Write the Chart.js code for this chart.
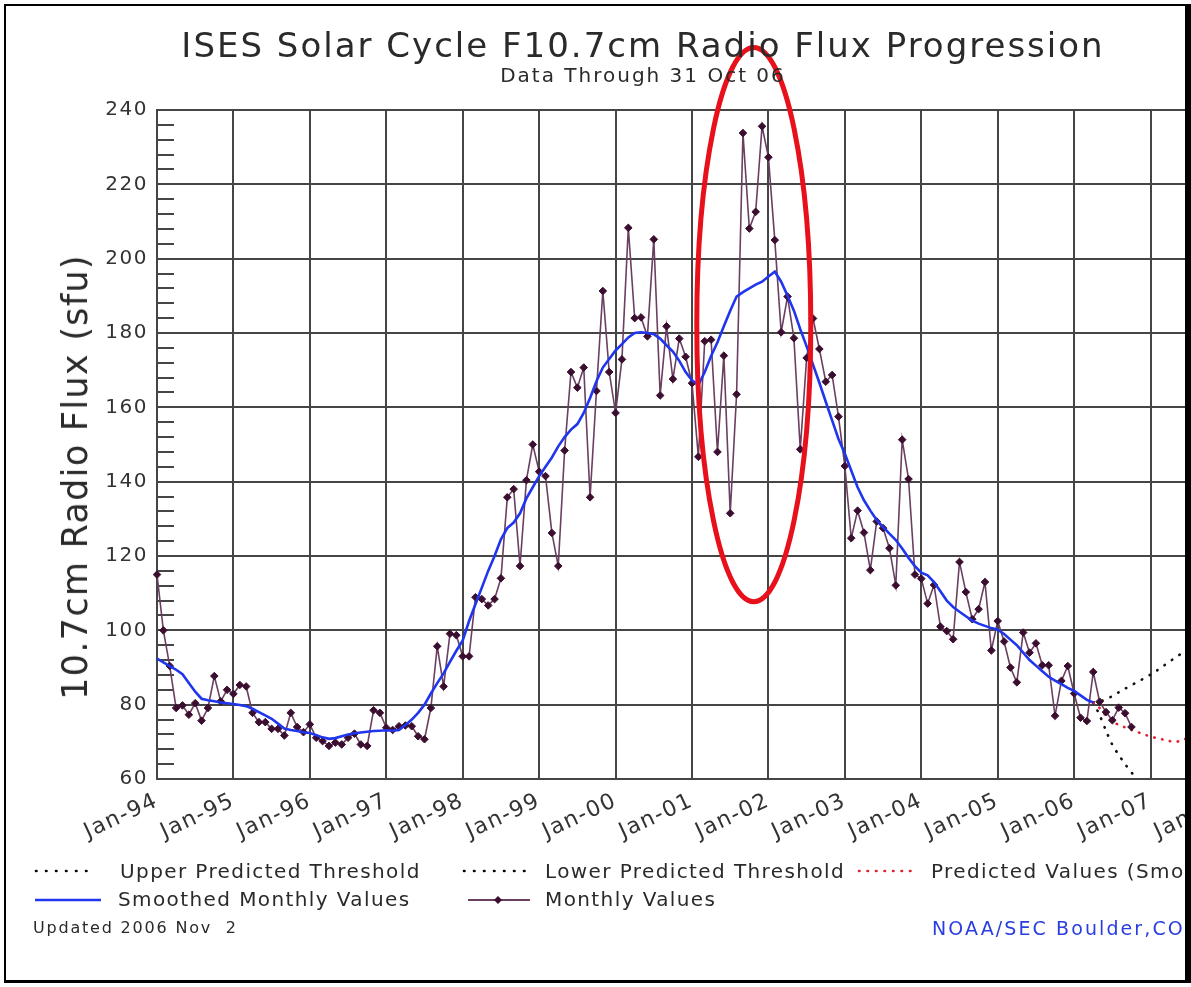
<!DOCTYPE html>
<html>
<head>
<meta charset="utf-8">
<script src="https://cdn.jsdelivr.net/npm/chart.js@4.4.1/dist/chart.umd.min.js"></script>
<style>
  html, body { margin:0; padding:0; background:#fff; width:1191px; height:987px; overflow:hidden; }
  #clip { position:absolute; left:0; top:0; width:1185px; height:987px; overflow:hidden; background:#fff; }
  #c { position:absolute; left:0; top:0; }
  .t { position:absolute; font-family:"DejaVu Sans", sans-serif; color:#2a2a2a; white-space:pre; }
  .bar { position:absolute; background:#000; }
  .lg { position:absolute; }
</style>
</head>
<body>
<div id="clip">
  <canvas id="c" width="1300" height="987"></canvas>
  <div class="t" id="title" style="left:0;width:1286px;text-align:center;top:24px;font-size:34px;line-height:42px;letter-spacing:2px;">ISES Solar Cycle F10.7cm Radio Flux Progression</div>
  <div class="t" id="subtitle" style="left:0;width:1286px;text-align:center;top:63px;font-size:20px;line-height:24px;letter-spacing:2px;">Data Through 31 Oct 06</div>
  <div class="t" id="ytitle" style="left:75px;top:477px;font-size:35px;line-height:40px;letter-spacing:1.3px;transform:translate(-50%,-50%) rotate(-90deg);">10.7cm Radio Flux (sfu)</div>

  <svg class="lg" style="left:33px;top:866px" width="64" height="10"><line x1="3" y1="5" x2="62" y2="5" stroke="#000" stroke-width="2.6" stroke-linecap="round" stroke-dasharray="0.5 9.5"/></svg>
  <div class="t" style="left:120px;top:859px;font-size:20px;line-height:24px;letter-spacing:1.4px;">Upper Predicted Threshold</div>
  <svg class="lg" style="left:461px;top:866px" width="66" height="10"><line x1="3" y1="5" x2="64" y2="5" stroke="#000" stroke-width="2.6" stroke-linecap="round" stroke-dasharray="0.5 9.5"/></svg>
  <div class="t" style="left:545px;top:859px;font-size:20px;line-height:24px;letter-spacing:1.4px;">Lower Predicted Threshold</div>
  <svg class="lg" style="left:856px;top:866px" width="64" height="10"><line x1="3" y1="5" x2="62" y2="5" stroke="#e0202a" stroke-width="2.6" stroke-linecap="round" stroke-dasharray="0.5 8"/></svg>
  <div class="t" style="left:931px;top:859px;font-size:20px;line-height:24px;letter-spacing:1.4px;">Predicted Values (Smoothed)</div>

  <svg class="lg" style="left:34px;top:895px" width="68" height="10"><line x1="1" y1="5" x2="67" y2="5" stroke="#1f35ee" stroke-width="2.6"/></svg>
  <div class="t" style="left:118px;top:887px;font-size:20px;line-height:24px;letter-spacing:1.4px;">Smoothed Monthly Values</div>
  <svg class="lg" style="left:467px;top:894px" width="64" height="12"><line x1="1" y1="6" x2="63" y2="6" stroke="#6a3f60" stroke-width="1.8"/><polygon points="31,2 35,6 31,10 27,6" fill="#3b0e30"/></svg>
  <div class="t" style="left:545px;top:887px;font-size:20px;line-height:24px;letter-spacing:1.4px;">Monthly Values</div>

  <div class="t" style="left:33px;top:918px;font-size:16px;line-height:20px;letter-spacing:1.8px;">Updated 2006 Nov  2</div>
  <div class="t" style="left:932px;top:916px;font-size:19px;line-height:24px;letter-spacing:2.1px;color:#2a3de0;">NOAA/SEC Boulder,CO</div>
</div>
<div class="bar" style="left:4px;top:4px;width:1187px;height:2px"></div>
<div class="bar" style="left:4px;top:4px;width:2px;height:979px"></div>
<div class="bar" style="left:4px;top:980px;width:1187px;height:3px"></div>
<div class="bar" style="left:1185px;top:4px;width:6px;height:979px"></div>

<script>
// ---- Data (month index 0 = Jan 1994) ----
const xTickLabels = ['Jan-94','Jan-95','Jan-96','Jan-97','Jan-98','Jan-99','Jan-00','Jan-01','Jan-02','Jan-03','Jan-04','Jan-05','Jan-06','Jan-07','Jan-08'];

const monthlyStart = 0; // Jan-94
const monthlyValues = [
  115.0, 100.0, 90.4, 79.1, 79.8, 77.3, 80.4, 75.7, 79.1, 87.7, 80.9, 84.0,
  82.9, 85.3, 84.9, 77.8, 75.3, 75.3, 73.5, 73.5, 71.7, 77.8, 74.0, 72.6,
  74.7, 71.1, 70.2, 68.9, 69.8, 69.3, 71.1, 72.2, 69.3, 68.9, 78.5, 77.8,
  73.8, 73.2, 74.2, 74.4, 74.2, 71.5, 70.7, 79.1, 95.7, 84.9, 99.1, 98.7,
  93.0, 93.0, 108.9, 108.4, 106.7, 108.4, 114.0, 135.8, 138.0, 117.3, 140.4, 150.0,
  142.7, 141.5, 126.2, 117.3, 148.4, 169.5, 165.3, 170.7, 135.8, 164.4, 191.3, 169.5,
  158.5, 172.9, 208.3, 184.0, 184.2, 179.1, 205.2, 163.2, 181.8, 167.6, 178.5, 173.6,
  166.5, 146.7, 177.8, 178.2, 148.0, 173.9, 131.5, 163.5, 233.8, 208.1, 212.6, 235.6,
  227.3, 205.0, 180.2, 189.8, 178.6, 148.7, 173.3, 183.9, 175.7, 166.9, 168.7, 157.5,
  144.2, 124.8, 132.2, 126.3, 116.2, 129.3, 127.5, 122.1, 112.1, 151.3, 140.7, 115.0,
  113.9, 107.2, 112.2, 101.0, 99.8, 97.6, 118.4, 110.3, 103.0, 105.7, 113.0, 94.6,
  102.5, 97.0, 90.0, 86.0, 99.4, 94.0, 96.5, 90.6, 90.6, 77.0, 86.4, 90.4,
  83.0, 76.5, 75.6, 88.8, 80.8, 78.0, 75.8, 79.2, 77.7, 74.0
];

const smoothedStart = 0; // Jan-94
const smoothedValues = [
  92.4, 91.4, 90.4, 89.4, 88.2, 85.8, 83.5, 81.6, 81.2, 80.9, 80.6, 80.4,
  80.2, 79.9, 79.6, 78.9, 78.0, 77.1, 76.2, 74.9, 73.6, 73.2, 72.9, 72.6,
  72.4, 71.8, 71.2, 70.8, 71.0, 71.5, 72.0, 72.3, 72.5, 72.7, 72.9, 73.0,
  73.1, 73.0, 73.2, 74.5, 76.0, 77.8, 80.0, 83.0, 85.8, 88.4, 91.5, 94.5,
  97.3, 102.5, 107.0, 111.5, 116.0, 120.0, 124.5, 127.5, 129.0, 131.5, 135.5, 138.5,
  141.5, 144.0, 146.5, 149.5, 152.0, 154.0, 155.5, 158.5, 162.5, 167.0, 170.7, 173.0,
  175.3, 177.0, 178.8, 180.0, 180.2, 180.0, 179.7, 178.5, 176.7, 175.0, 172.5, 169.5,
  167.3, 166.0, 169.5, 173.8, 177.5, 181.8, 186.0, 189.8, 191.0, 192.0, 193.0, 193.8,
  195.2, 196.5, 193.8, 190.0, 186.0, 181.0, 176.4, 171.5, 166.6, 161.5, 156.5, 151.5,
  147.5, 143.0, 138.5, 135.0, 132.2, 129.7, 127.8, 126.0, 124.3, 122.0, 119.5, 117.3,
  115.5, 114.8, 113.0, 110.5, 108.0, 106.3, 105.0, 103.8, 102.6, 101.8, 101.2, 100.6,
  100.2, 99.0, 97.5, 96.0, 94.0, 92.0, 90.5, 89.0, 87.5, 86.5, 85.5, 84.5,
  83.7, 82.5, 81.3, 80.6
];

const predictionStart = 147; // Apr-06
const predictedValues = [80.6, 79.1, 77.0, 75.4, 74.6, 73.9, 73.2, 72.6, 72.0, 71.4, 71.0, 70.6, 70.2, 70.0, 70.5, 71.2];
const upperThreshold  = [80.6, 80.9, 81.4, 82.3, 83.3, 84.3, 85.2, 86.2, 87.1, 88.1, 89.2, 90.4, 91.6, 92.8, 93.9, 95.0];
const lowerThreshold  = [80.6, 77.2, 73.0, 69.2, 66.5, 64.0, 61.8, 59.5];

// highlight ellipse, in data units (months / sfu)
const highlight = { centerMonth: 93.7, halfWidthMonths: 8.95, top: 256.8, bottom: 107.7 };

function toPoints(start, arr) { return arr.map((v, i) => ({ x: start + i, y: v })); }

const GRID = '#454545';
const FONT = '"DejaVu Sans", sans-serif';

const textSpacing = {
  id: 'textSpacing',
  beforeDraw(chart) { try { chart.ctx.letterSpacing = '1.5px'; } catch (e) {} },
  afterDraw(chart) { try { chart.ctx.letterSpacing = '0px'; } catch (e) {} }
};

const minorTicks = {
  id: 'minorTicks',
  beforeDatasetsDraw(chart) {
    const { ctx, chartArea, scales: { y } } = chart;
    ctx.save();
    ctx.strokeStyle = GRID;
    ctx.lineWidth = 2;
    for (let v = y.min; v <= y.max; v += 4) {
      if (v % 20 === 0) continue;
      const py = Math.round(y.getPixelForValue(v));
      ctx.beginPath();
      ctx.moveTo(chartArea.left, py);
      ctx.lineTo(chartArea.left + 17, py);
      ctx.stroke();
    }
    ctx.restore();
  }
};

const ellipsePlugin = {
  id: 'highlightEllipse',
  afterDraw(chart) {
    const { ctx, scales: { x, y } } = chart;
    const cx = x.getPixelForValue(highlight.centerMonth);
    const rx = x.getPixelForValue(highlight.centerMonth + highlight.halfWidthMonths) - cx;
    const yt = y.getPixelForValue(highlight.top);
    const yb = y.getPixelForValue(highlight.bottom);
    ctx.save();
    ctx.strokeStyle = '#e8101a';
    ctx.lineWidth = 5;
    ctx.beginPath();
    ctx.ellipse(cx, (yt + yb) / 2, rx, (yb - yt) / 2, 0, 0, Math.PI * 2);
    ctx.stroke();
    ctx.restore();
  }
};

new Chart(document.getElementById('c'), {
  type: 'line',
  data: {
    datasets: [
      {
        label: 'Smoothed Monthly Values',
        data: toPoints(smoothedStart, smoothedValues),
        borderColor: '#1f35ee', borderWidth: 2.6, pointRadius: 0, tension: 0, order: 0
      },
      {
        label: 'Monthly Values',
        data: toPoints(monthlyStart, monthlyValues),
        borderColor: '#6a3f60', borderWidth: 1.6, tension: 0,
        pointStyle: 'rectRot', pointRadius: 3.8,
        pointBackgroundColor: '#3b0e30', pointBorderColor: '#3b0e30', pointBorderWidth: 1,
        clip: false, order: 1
      },
      {
        label: 'Predicted Values (Smoothed)',
        data: toPoints(predictionStart, predictedValues),
        borderColor: '#e0202a', borderWidth: 2.6, borderDash: [0.5, 7.5], borderCapStyle: 'round',
        pointRadius: 0, tension: 0.3, order: 2
      },
      {
        label: 'Upper Predicted Threshold',
        data: toPoints(predictionStart, upperThreshold),
        borderColor: '#111', borderWidth: 2.6, borderDash: [0.5, 8.5], borderCapStyle: 'round',
        pointRadius: 0, tension: 0.3, order: 3
      },
      {
        label: 'Lower Predicted Threshold',
        data: toPoints(predictionStart, lowerThreshold),
        borderColor: '#111', borderWidth: 2.6, borderDash: [0.5, 8.5], borderCapStyle: 'round',
        pointRadius: 0, tension: 0.3, order: 3
      }
    ]
  },
  options: {
    responsive: false,
    animation: false,
    devicePixelRatio: 1,
    layout: { padding: { left: 0, top: 110, right: 73, bottom: 128 } },
    plugins: {
      legend: { display: false },
      tooltip: { enabled: false },
      title: { display: false }
    },
    scales: {
      x: {
        type: 'linear', min: 0, max: 168,
        afterFit(s) { s.height = 80; s.paddingLeft = 0; s.paddingRight = 0; },
        grid: { color: GRID, lineWidth: 2, drawTicks: false },
        border: { display: true, color: GRID, width: 2 },
        ticks: {
          stepSize: 12, autoSkip: false, minRotation: 25, maxRotation: 25, padding: 9,
          color: '#333', font: { family: FONT, size: 22 },
          callback: (v) => xTickLabels[Math.round(v / 12)]
        }
      },
      y: {
        min: 60, max: 240,
        afterFit(s) { s.width = 157; s.paddingTop = 0; s.paddingBottom = 0; },
        grid: { color: GRID, lineWidth: 2, drawTicks: false },
        border: { display: true, color: GRID, width: 2 },
        ticks: { stepSize: 20, padding: 9, color: '#333', font: { family: FONT, size: 20 } }
      }
    }
  },
  plugins: [textSpacing, minorTicks, ellipsePlugin]
});
</script>
</body>
</html>
